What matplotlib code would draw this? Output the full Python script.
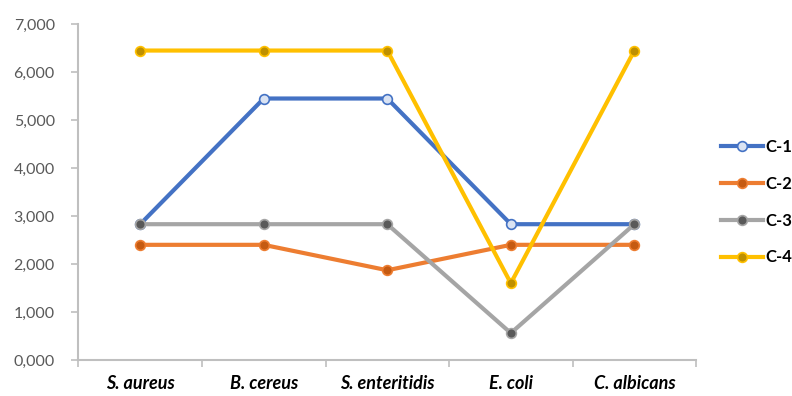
import matplotlib.pyplot as plt
from matplotlib.ticker import FuncFormatter, FixedLocator

plt.rcParams['font.family'] = ['Lato', 'DejaVu Sans']

categories = ['S. aureus', 'B. cereus', 'S. enteritidis', 'E. coli', 'C. albicans']
c1 = [2.83, 5.45, 5.45, 2.83, 2.83]
c2 = [2.40, 2.40, 1.87, 2.40, 2.40]
c3 = [2.83, 2.83, 2.83, 0.56, 2.83]
c4 = [6.45, 6.45, 6.45, 1.60, 6.45]

series = [
    ('C-1', c1, '#4472c4', '#dae3f3'),
    ('C-2', c2, '#ed7d31', '#c55a11'),
    ('C-3', c3, '#a5a5a5', '#595959'),
    ('C-4', c4, '#ffc000', '#bf9000'),
]

fig = plt.figure(figsize=(7.92, 3.96), dpi=100)
ax = fig.add_axes([0.099, 0.091, 0.780, 0.848])

x = range(len(categories))
for name, vals, col, fill in series:
    ax.plot(x, vals, color=col, lw=3, marker='o', ms=7,
            markerfacecolor=fill, markeredgecolor=col, markeredgewidth=1.2,
            label=name)

ax.set_xlim(-0.5, len(categories) - 0.5)
ax.set_ylim(0, 7)
ax.set_yticks(range(0, 8))
ax.yaxis.set_major_formatter(FuncFormatter(lambda v, p: f'{v:.3f}'.replace('.', ',')))
ax.set_xticks(list(x))
ax.set_xticklabels(categories, fontstyle='italic', fontweight='bold', fontsize=13)
ax.xaxis.set_minor_locator(FixedLocator([i - 0.5 for i in range(len(categories) + 1)]))
ax.tick_params(axis='x', which='major', length=0, pad=11)
ax.tick_params(axis='x', which='minor', length=5, color='#bfbfbf', width=1.2)
ax.tick_params(axis='y', length=5, color='#bfbfbf', width=1.2, labelsize=11.5,
               labelcolor='#595959', pad=12)

for s in ['top', 'right']:
    ax.spines[s].set_visible(False)
for s in ['left', 'bottom']:
    ax.spines[s].set_color('#bfbfbf')
    ax.spines[s].set_linewidth(1.5)

leg = ax.legend(loc='center left', bbox_to_anchor=(1.04, 0.47), frameon=False,
                prop={'weight': 'bold', 'size': 12}, labelspacing=1.25,
                handlelength=2.5, handletextpad=0.15, borderpad=0, borderaxespad=0)

fig.savefig('out.png', dpi=100)
